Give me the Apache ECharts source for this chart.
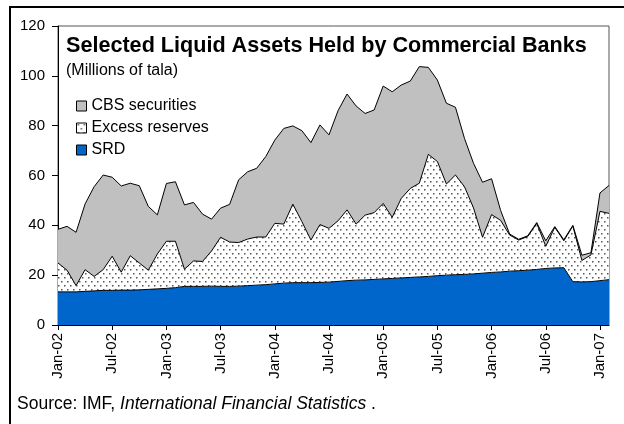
<!DOCTYPE html>
<html>
<head>
<meta charset="utf-8">
<script src="https://cdn.jsdelivr.net/npm/echarts@6/dist/echarts.min.js"></script>
<style>
  html, body { margin: 0; padding: 0; background: #fff; }
  #chart { width: 624px; height: 424px; }
</style>
</head>
<body>
<div id="chart"></div>
<script>
// monthly, Jan-02 .. Feb-07
var months = ["Jan", "Feb", "Mar", "Apr", "May", "Jun", "Jul", "Aug", "Sep", "Oct", "Nov", "Dec"];
var years = ["02", "03", "04", "05", "06", "07"];
var categories = [];
years.forEach(function (y) {
  months.forEach(function (m) {
    if (categories.length < 62) categories.push(m + "-" + y);
  });
});

// millions of tala (stacked pieces)
var srd = [13.3, 13.3, 13.3, 13.5, 13.7, 13.9, 13.9, 14.0, 14.0, 14.1, 14.3, 14.5,
  14.7, 15.0, 15.5, 15.5, 15.5, 15.6, 15.5, 15.5, 15.6, 15.8, 16.0, 16.2,
  16.5, 16.8, 17.0, 17.0, 17.0, 17.1, 17.2, 17.5, 17.8, 18.0, 18.1, 18.3,
  18.5, 18.7, 18.9, 19.1, 19.3, 19.5, 19.8, 20.0, 20.2, 20.3, 20.5, 20.8,
  21.1, 21.3, 21.6, 21.8, 22.0, 22.3, 22.7, 22.9, 23.0, 17.4, 17.3, 17.4,
  17.8, 18.2];
var excessReserves = [11.6, 8.7, 2.5, 8.7, 5.8, 8.3, 13.7, 7.2, 13.8, 10.8, 7.7, 14.0,
  18.9, 18.6, 6.9, 10.2, 10.0, 14.1, 19.7, 17.8, 17.5, 18.7, 19.3, 19.1,
  24.3, 23.7, 31.5, 24.5, 17.1, 23.2, 21.6, 24.3, 28.4, 22.5, 26.0, 26.8,
  30.3, 24.5, 31.9, 35.7, 37.6, 49.0, 45.8, 36.6, 40.0, 35.2, 26.5, 14.4,
  23.2, 20.7, 14.5, 12.3, 13.5, 18.5, 8.9, 16.3, 10.8, 22.3, 8.6, 10.7,
  27.8, 26.6];
var cbsSecurities = [13.5, 17.6, 21.4, 26.4, 36.0, 38.0, 31.7, 34.6, 29.1, 31.0, 25.6, 15.7,
  23.2, 23.9, 25.8, 23.5, 19.0, 12.8, 11.7, 15.1, 25.2, 27.0, 27.6, 32.3,
  33.4, 38.4, 31.4, 36.5, 39.1, 40.0, 37.5, 44.2, 46.5, 47.4, 40.8, 41.2,
  47.1, 50.4, 45.5, 43.1, 46.8, 34.9, 32.7, 32.4, 27.2, 19.4, 17.9, 22.1,
  14.4, 4.0, 0.4, 0.3, 0.3, 0.3, 2.2, 0.3, 0.4, 0.3, 2.1, 0.9,
  7.4, 11.2];

var FONT = "Liberation Sans, Arial, sans-serif";

// dotted fill like the Excel pattern
function dots() {
  var c = document.createElement("canvas");
  c.width = 6;
  c.height = 8;
  var g = c.getContext("2d");
  g.fillStyle = "#fff";
  g.fillRect(0, 0, 6, 8);
  g.fillStyle = "#555";
  g.fillRect(1, 1, 1.5, 1.5);
  g.fillRect(4, 5, 1.5, 1.5);
  return { image: c, repeat: "repeat" };
}
var dotFill = dots();

function everySix(idx) {
  return idx % 6 === 0;
}

var chart = echarts.init(document.getElementById("chart"), null, { renderer: "canvas" });

var option = {
  animation: false,
  backgroundColor: "#fff",
  textStyle: { fontFamily: FONT },
  title: [
    {
      text: "Selected Liquid Assets Held by Commercial Banks",
      left: 66,
      top: 35,
      padding: 0,
      textStyle: { fontFamily: FONT, fontSize: 21.6, fontWeight: "bold", color: "#000" }
    },
    {
      text: "(Millions of tala)",
      left: 66,
      top: 63,
      padding: 0,
      textStyle: { fontFamily: FONT, fontSize: 16, fontWeight: "normal", color: "#000" }
    }
  ],
  legend: {
    orient: "vertical",
    left: 76,
    top: 98,
    padding: 0,
    itemWidth: 10,
    itemHeight: 10,
    itemGap: 6,
    icon: "rect",
    textStyle: { fontFamily: FONT, fontSize: 16, color: "#000", lineHeight: 15 },
    data: [
      { name: "CBS securities", itemStyle: { color: "#c0c0c0", borderColor: "#000", borderWidth: 1 } },
      { name: "Excess reserves", itemStyle: { color: dotFill, borderColor: "#000", borderWidth: 1 } },
      { name: "SRD", itemStyle: { color: "#0066cc", borderColor: "#000", borderWidth: 1 } }
    ]
  },
  grid: {
    left: 58,
    right: 15,
    top: 26,
    bottom: 99,
    show: true,
    borderColor: "#555",
    borderWidth: 1,
    backgroundColor: "transparent"
  },
  xAxis: {
    type: "category",
    data: categories,
    boundaryGap: false,
    axisLine: { lineStyle: { color: "#000", width: 1 } },
    axisTick: { interval: everySix, length: 5, inside: false, lineStyle: { color: "#000" } },
    axisLabel: {
      interval: everySix,
      rotate: 90,
      margin: 8,
      fontFamily: FONT,
      fontSize: 15,
      color: "#000"
    },
    splitLine: { show: false }
  },
  yAxis: {
    type: "value",
    min: 0,
    max: 120,
    interval: 20,
    axisLine: { show: true, lineStyle: { color: "#000", width: 1 } },
    axisTick: { show: true, length: 6, lineStyle: { color: "#000" } },
    axisLabel: { margin: 13, fontFamily: FONT, fontSize: 15, color: "#000" },
    splitLine: { show: false }
  },
  series: [
    {
      name: "SRD",
      type: "line",
      stack: "total",
      data: srd,
      symbol: "none",
      lineStyle: { color: "#000", width: 1 },
      itemStyle: { color: "#0066cc" },
      areaStyle: { color: "#0066cc", opacity: 1 }
    },
    {
      name: "Excess reserves",
      type: "line",
      stack: "total",
      data: excessReserves,
      symbol: "none",
      lineStyle: { color: "#000", width: 1 },
      itemStyle: { color: "#fff" },
      areaStyle: { color: dotFill, opacity: 1 }
    },
    {
      name: "CBS securities",
      type: "line",
      stack: "total",
      data: cbsSecurities,
      symbol: "none",
      lineStyle: { color: "#000", width: 1 },
      itemStyle: { color: "#c0c0c0" },
      areaStyle: { color: "#c0c0c0", opacity: 1 }
    }
  ],
  graphic: [
    {
      type: "rect",
      shape: { x: 10, y: 7, width: 700, height: 500 },
      style: { fill: "none", stroke: "#000", lineWidth: 2 },
      silent: true
    },
    {
      type: "text",
      left: 17,
      top: 395,
      style: {
        text: "{a|Source: IMF, }{i|International Financial Statistics}{a| .}",
        rich: {
          a: { fontFamily: FONT, fontSize: 17.5, fill: "#000" },
          i: { fontFamily: FONT, fontSize: 17.5, fontStyle: "italic", fill: "#000" }
        }
      }
    }
  ]
};

chart.setOption(option);
</script>
</body>
</html>
